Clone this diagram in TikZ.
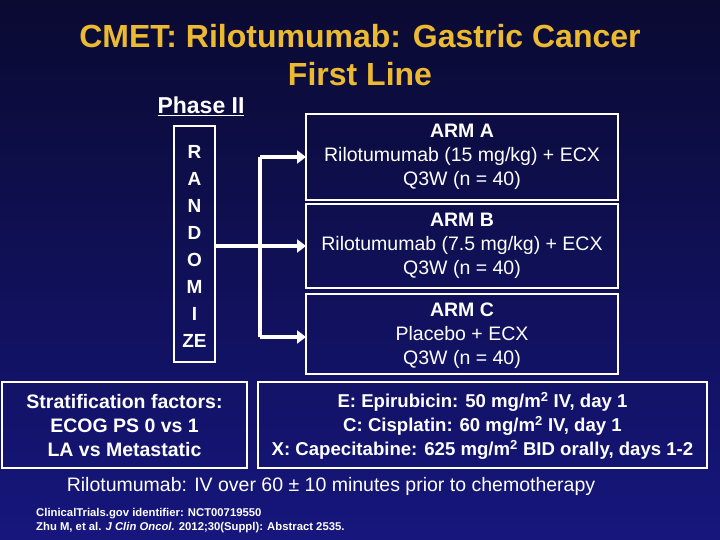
\documentclass[tikz,border=0pt]{standalone}
\usepackage{fontspec}
\setmainfont{Liberation Sans}
\usetikzlibrary{arrows.meta}
\definecolor{bgtop}{RGB}{10,10,50}
\definecolor{bgbot}{RGB}{22,22,125}
\definecolor{gold}{RGB}{236,186,48}
\begin{document}
\begin{tikzpicture}[x=1pt,y=-1pt,
  box/.style={draw=white,line width=2pt},
  txt/.style={text=white,font=\bfseries\fontsize{19.5}{24}\selectfont,align=center,inner sep=0},
  arr/.style={white,line width=3.5pt,-{Triangle[length=9pt,width=13pt]}}]
\shade[top color=bgtop,bottom color=bgbot] (0,0) rectangle (720,540);
\useasboundingbox (0,0) rectangle (720,540);
\node[text=gold,font=\bfseries\fontsize{32}{38}\selectfont,align=center] (title) at (360,55) {CMET: Rilotumumab: Gastric Cancer\\First Line};
\node[text=white,font=\bfseries\fontsize{23}{24}\selectfont,inner sep=1pt] (ph) at (201,106) {\underline{Phase II}};
\draw[box] (174,126) rectangle (215,362);
\node[txt,font=\bfseries\fontsize{19}{27}\selectfont] (rand) at (194.5,246) {R\\A\\N\\D\\O\\M\\I\\ZE};
\draw[box] (306,114) rectangle (618,200);
\draw[box] (306,204) rectangle (618,288);
\draw[box] (306,294) rectangle (618,374);
\node[txt] (a) at (462,157) {ARM A\\\mdseries Rilotumumab (15 mg/kg) + ECX\\\mdseries Q3W (n = 40)};
\node[txt] (b) at (462,246) {ARM B\\\mdseries Rilotumumab (7.5 mg/kg) + ECX\\\mdseries Q3W (n = 40)};
\node[txt] (c) at (462,336) {ARM C\\\mdseries Placebo + ECX\\\mdseries Q3W (n = 40)};
\coordinate (j) at (260,246);
\coordinate (jt) at (260,157);
\coordinate (jb) at (260,337);
\draw[white,line width=3.5pt] (215,246) -- (j);
\draw[white,line width=3.5pt] (jt) -- (jb);
\draw[arr] (jt) -- (306,157);
\draw[arr] (j) -- (306,246);
\draw[arr] (jb) -- (306,337);
\draw[box] (2,382) rectangle (247,468);
\draw[box] (258,382) rectangle (707,468);
\node[txt] (s) at (124.5,426) {Stratification factors:\\ECOG PS 0 vs 1\\LA vs Metastatic};
\node[txt,font=\bfseries\fontsize{18.6}{24}\selectfont] (d) at (482.5,426) {E: Epirubicin: 50 mg/m\textsuperscript{2} IV, day 1\\C: Cisplatin: 60 mg/m\textsuperscript{2} IV, day 1\\X: Capecitabine: 625 mg/m\textsuperscript{2} BID orally, days 1-2};
\node[text=white,font=\fontsize{19.5}{20}\selectfont,inner sep=0] (r) at (331,486) {Rilotumumab: IV over 60 ± 10 minutes prior to chemotherapy};
\node[text=white,font=\bfseries\fontsize{11.3}{14}\selectfont,align=left,anchor=west,inner sep=0] (ref) at (36,521) {ClinicalTrials.gov identifier: NCT00719550\\Zhu M, et al. \textit{J Clin Oncol.} 2012;30(Suppl): Abstract 2535.};
\end{tikzpicture}
\end{document}
